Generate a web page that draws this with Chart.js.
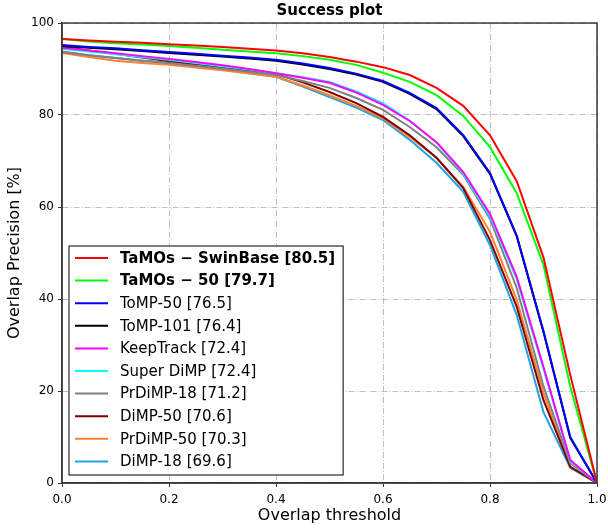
<!DOCTYPE html>
<html>
<head>
<meta charset="utf-8">
<script src="https://cdn.jsdelivr.net/npm/chart.js@4.4.0/dist/chart.umd.min.js"></script>
<style>
  html, body { margin: 0; padding: 0; background: #fff; }
  canvas { display: block; }
</style>
</head>
<body>
<canvas id="grafico" width="608" height="529"></canvas>
<script>
// limiares de sobreposição (eixo x)
const limiares = [0, 0.05, 0.1, 0.15, 0.2, 0.25, 0.3, 0.35, 0.4, 0.45, 0.5,
  0.55, 0.6, 0.65, 0.7, 0.75, 0.8, 0.85, 0.9, 0.95, 1.0];

const nomes = ["TaMOs − SwinBase [80.5]", "TaMOs − 50 [79.7]", "ToMP-50 [76.5]",
  "ToMP-101 [76.4]", "KeepTrack [72.4]", "Super DiMP [72.4]", "PrDiMP-18 [71.2]",
  "DiMP-50 [70.6]", "PrDiMP-50 [70.3]", "DiMP-18 [69.6]"];

const tamosSwin = [96.5, 96.2, 95.9, 95.7, 95.4, 95.1, 94.8, 94.4, 94.0, 93.4, 92.6, 91.6, 90.4, 88.7, 85.9, 82.0, 75.6, 65.6, 49.0, 23.5, 0];
const tamos50   = [96.6, 96.0, 95.6, 95.3, 95.0, 94.6, 94.2, 93.8, 93.4, 92.8, 92.0, 90.9, 89.2, 87.2, 84.3, 79.8, 73.0, 63.0, 47.4, 21.0, 0];
const tomp50    = [95.2, 94.8, 94.5, 94.1, 93.7, 93.3, 92.9, 92.5, 92.0, 91.2, 90.2, 89.0, 87.4, 84.8, 81.5, 75.6, 67.4, 53.8, 33.0, 10.0, 0];
const tomp101   = [95.0, 94.6, 94.3, 93.9, 93.5, 93.1, 92.7, 92.3, 91.8, 91.0, 90.0, 88.8, 87.2, 84.6, 81.3, 75.4, 67.2, 53.6, 32.8, 9.8, 0];
const keepTrack = [94.6, 94.0, 93.4, 92.8, 92.2, 91.5, 90.8, 90.0, 89.1, 88.1, 87.0, 84.9, 82.2, 78.7, 74.1, 67.6, 58.5, 44.8, 25.2, 5.0, 0];
const superDimp = [94.4, 93.8, 93.2, 92.6, 92.0, 91.3, 90.6, 89.9, 89.1, 88.2, 87.2, 85.1, 82.5, 78.8, 74.0, 67.3, 58.0, 44.3, 24.8, 4.8, 0];
const prdimp18  = [93.7, 93.0, 92.4, 91.8, 91.3, 90.7, 90.1, 89.4, 88.7, 87.4, 85.9, 83.7, 81.1, 77.4, 73.0, 67.0, 57.4, 42.4, 21.0, 4.3, 0];
const dimp50    = [94.8, 94.0, 93.3, 92.5, 91.7, 91.0, 90.3, 89.6, 88.9, 87.1, 85.0, 82.6, 79.6, 75.6, 70.7, 64.1, 52.8, 38.3, 18.0, 3.5, 0];
const prdimp50  = [93.5, 92.6, 91.8, 91.3, 90.9, 90.3, 89.7, 89.0, 88.3, 86.4, 84.3, 82.0, 79.3, 75.2, 70.7, 64.4, 54.6, 39.8, 19.6, 3.5, 0];
const dimp18    = [93.8, 93.0, 92.4, 91.8, 91.3, 90.6, 89.9, 89.1, 88.3, 86.2, 83.9, 81.6, 78.9, 74.6, 69.6, 63.3, 51.7, 36.5, 15.4, 3.3, 0];

const series = [tamosSwin, tamos50, tomp50, tomp101, keepTrack, superDimp, prdimp18, dimp50, prdimp50, dimp18];
const cores = ["#ff0000", "#00ff00", "#0000ff", "#000000", "#ff00ff", "#00ffff",
  "#808080", "#800000", "#ff8030", "#1ca3e8"];

const ticksX = [0, 0.2, 0.4, 0.6, 0.8, 1.0];
const ticksY = [0, 20, 40, 60, 80, 100];

const fonte = "'DejaVu Sans', sans-serif";

// título e moldura, desenhados sobre a área do gráfico
const moldura = {
  id: "moldura",
  afterDraw(chart) {
    const ctx = chart.ctx;
    const a = chart.chartArea;
    ctx.save();
    ctx.setLineDash([]);
    ctx.strokeStyle = "#3a3a3a";
    ctx.lineWidth = 1.5;
    ctx.strokeRect(a.left, a.top, a.right - a.left, a.bottom - a.top);
    ctx.fillStyle = "#000";
    ctx.font = "bold 15px " + fonte;
    ctx.textAlign = "center";
    ctx.textBaseline = "middle";
    ctx.fillText("Success plot", (a.left + a.right) / 2, 11);
    ctx.restore();
  }
};

// legenda dentro da área, canto inferior esquerdo
const legendaInterna = {
  id: "legendaInterna",
  afterDatasetsDraw(chart) {
    const ctx = chart.ctx;
    const a = chart.chartArea;
    const linha = 22.6;
    const tam = "15px ";
    ctx.save();
    ctx.setLineDash([]);
    let largura = 0;
    chart.data.datasets.forEach((ds, i) => {
      ctx.font = (i < 2 ? "bold " : "") + tam + fonte;
      largura = Math.max(largura, ctx.measureText(ds.label).width);
    });
    const w = 51 + largura + 8;
    const h = linha * chart.data.datasets.length + 3;
    const x0 = a.left + 7;
    const y0 = a.bottom - 8 - h;
    ctx.fillStyle = "#fff";
    ctx.fillRect(x0, y0, w, h);
    ctx.strokeStyle = "#000";
    ctx.lineWidth = 1;
    ctx.strokeRect(x0, y0, w, h);
    chart.data.datasets.forEach((ds, i) => {
      const y = y0 + 12 + i * linha;
      ctx.strokeStyle = ds.borderColor;
      ctx.lineWidth = 2;
      ctx.beginPath();
      ctx.moveTo(x0 + 6, y);
      ctx.lineTo(x0 + 39, y);
      ctx.stroke();
      ctx.fillStyle = "#000";
      ctx.font = (i < 2 ? "bold " : "") + tam + fonte;
      ctx.textAlign = "left";
      ctx.textBaseline = "middle";
      ctx.fillText(ds.label, x0 + 51, y + 1);
    });
    ctx.restore();
  }
};

const datasets = series.map((vals, i) => ({
  label: nomes[i],
  data: vals.map((v, j) => ({ x: limiares[j], y: v })),
  borderColor: cores[i],
  backgroundColor: cores[i],
  borderWidth: 2,
  pointRadius: 0,
  fill: false,
  tension: 0
}));

const grade = {
  color: "#b8b8b8",
  lineWidth: 0.9,
  tickColor: "#333",
  tickBorderDash: [],
  tickLength: 4,
  tickWidth: 1
};

const borda = { color: "#3a3a3a", width: 1.5, dash: [6, 2, 1, 2] };

new Chart(document.getElementById("grafico").getContext("2d"), {
  type: "line",
  data: { datasets: datasets },
  options: {
    responsive: false,
    animation: false,
    devicePixelRatio: 1,
    layout: { padding: { top: 23, right: 11, left: 0, bottom: 0 } },
    plugins: {
      legend: { display: false },
      tooltip: { enabled: false },
      title: { display: false }
    },
    scales: {
      x: {
        type: "linear",
        min: 0,
        max: 1,
        afterFit(s) {
          s.height = 46;
          s.paddingLeft = 0;
          s.paddingRight = 0;
        },
        afterBuildTicks(s) { s.ticks = ticksX.map(v => ({ value: v })); },
        ticks: {
          color: "#000",
          font: { family: fonte, size: 12 },
          padding: 6,
          maxRotation: 0,
          callback: v => v.toFixed(1)
        },
        grid: grade,
        border: borda,
        title: {
          display: true,
          text: "Overlap threshold",
          color: "#000",
          font: { family: fonte, size: 16 },
          padding: { top: 0, bottom: 4 }
        }
      },
      y: {
        min: 0,
        max: 100,
        afterFit(s) { s.width = 62; },
        afterBuildTicks(s) { s.ticks = ticksY.map(v => ({ value: v })); },
        ticks: {
          color: "#000",
          font: { family: fonte, size: 12 },
          padding: 4
        },
        grid: grade,
        border: borda,
        title: {
          display: true,
          text: "Overlap Precision [%]",
          color: "#000",
          font: { family: fonte, size: 16 },
          padding: { top: 5, bottom: 0 }
        }
      }
    }
  },
  plugins: [moldura, legendaInterna]
});
</script>
</body>
</html>
